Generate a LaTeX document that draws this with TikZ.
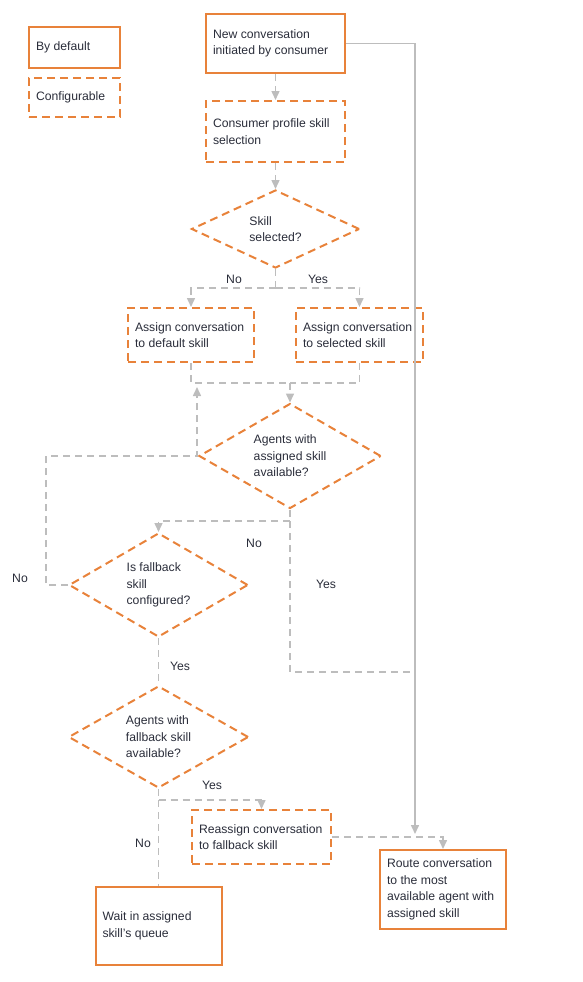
\documentclass[tikz,border=0pt]{standalone}
\usepackage{fontspec}
\setmainfont{Liberation Sans}
\usepackage{tikz}
\usetikzlibrary{positioning,shapes.geometric,arrows.meta}
\definecolor{lporange}{HTML}{E8823A}
\definecolor{lpgray}{HTML}{BDBDBD}
\definecolor{lptext}{HTML}{2A2D3A}
\tikzstyle{BaseNode}=[text=lptext, font=\fontsize{12.2}{16.5}\selectfont, line width=2pt, draw=lporange]
\tikzstyle{DefBox}=[BaseNode, rectangle, align=flush left, inner xsep=7pt, inner ysep=8pt, minimum height=54pt]
\tikzstyle{CfgBox}=[DefBox, dash pattern=on 8pt off 5pt]
\tikzstyle{CfgDec}=[BaseNode, diamond, aspect=1.75, inner sep=0pt, align=left, dash pattern=on 8pt off 5pt]
\tikzstyle{FlowLine}=[draw=lpgray, line width=1.5pt, dash pattern=on 7pt off 5pt]
\tikzstyle{Flow}=[FlowLine, -{Triangle[width=8pt,length=9pt]}]
\tikzstyle{SolidFlow}=[draw=lpgray, line width=1.5pt, -{Triangle[width=8pt,length=9pt]}]
\tikzstyle{Label}=[text=lptext, font=\fontsize{12.2}{16.5}\selectfont, inner sep=0pt]

\begin{document}
\begin{tikzpicture}[x=1pt, y=-1pt]
      \useasboundingbox (0,0) rectangle (582,982);
      % legend
      \node[DefBox, text width=77pt, minimum height=41pt] (legdef) at (74.5,47.5) {By default};
      \node[CfgBox, text width=77pt, minimum height=39pt] (legcfg) at (74.5,97.5) {Configurable};
      % steps
      \node[DefBox, text width=125pt, minimum height=59pt] (start) at (275.5,43.5) {New conversation\\initiated by consumer};
      \node[CfgBox, text width=125pt, minimum height=61pt] (profile) at (275.5,131.5) {Consumer profile skill\\selection};
      \node[CfgDec, minimum width=168pt, minimum height=78pt] (skillq) at (275.5,229) {Skill\\selected?};
      \node[CfgBox, text width=112pt] (default) at (191,335) {Assign conversation\\to default skill};
      \node[CfgBox, text width=113pt] (selected) at (359.5,335) {Assign conversation\\to selected skill};
      \node[CfgDec, minimum width=182pt, minimum height=105pt] (agentq) at (290,456) {Agents with\\assigned skill\\available?};
      \node[CfgDec, minimum width=179pt, minimum height=104pt] (fallq) at (158.5,585) {Is fallback\\skill\\configured?};
      \node[CfgDec, minimum width=180pt, minimum height=102pt] (fagentq) at (158.5,737) {Agents with\\fallback skill\\available?};
      \node[CfgBox, text width=125pt] (reassign) at (261.5,837) {Reassign conversation\\to fallback skill};
      \node[DefBox, text width=112pt, minimum height=79pt] (route) at (443,889.5) {Route conversation\\to the most\\available agent with\\assigned skill};
      \node[DefBox, text width=112pt, minimum height=78pt] (wait) at (158.5,926) {Wait in assigned\\skill's queue};
      % branch points
      \coordinate (s1) at (275.5,288);
      \coordinate (m1) at (290,383);
      \coordinate (s2) at (290,521);
      \coordinate (m2) at (415,672);
      \coordinate (jn) at (415,834);
      \coordinate (back) at (197,387);
      \coordinate (s3) at (158.5,800);
      % connectors
      \draw[Flow] (start) -- (profile);
      \draw[Flow] (profile) -- (skillq);
      \draw[FlowLine] (skillq.south) -- (s1);
      \draw[Flow] (s1) -| (default.north);
      \draw[Flow] (s1) -| (selected.north);
      \draw[SolidFlow] (start.east) -| (jn);
      \draw[FlowLine] (default.south) |- (m1);
      \draw[FlowLine] (selected.south) |- (m1);
      \draw[Flow] (m1) -- (agentq.north);
      \draw[FlowLine] (agentq.south) -- (s2);
      \draw[Flow] (s2) -| (fallq.north);
      \draw[FlowLine] (s2) |- (m2);
      \draw[Flow] (fallq.west) -- ++(-22,0) |- (back |- agentq.west) -- (back);
      \draw[FlowLine] (fallq.south) -- (fagentq.north);
      \draw[FlowLine] (fagentq.south) -- (s3);
      \draw[Flow] (s3) -| (reassign.north);
      \draw[FlowLine] (s3) -- (wait.north);
      \draw[Flow] (reassign.east) -| (route.north);
      % labels
      \node[Label] (no1) at (234,279) {No};
      \node[Label] (yes1) at (318,279) {Yes};
      \node[Label] (no2) at (254,543) {No};
      \node[Label] (yes2) at (326,584) {Yes};
      \node[Label] (no3) at (20,578) {No};
      \node[Label] (yes3) at (180,666) {Yes};
      \node[Label] (yes4) at (212,785) {Yes};
      \node[Label] (no4) at (143,843) {No};
    \end{tikzpicture}
\end{document}
